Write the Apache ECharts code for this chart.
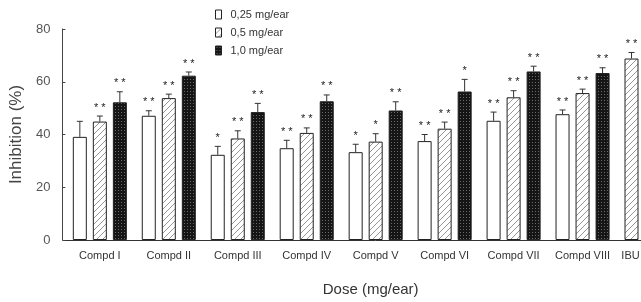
<!DOCTYPE html>
<html><head><meta charset="utf-8">
<script src="https://cdn.jsdelivr.net/npm/echarts@6/dist/echarts.min.js"></script>
<style>html,body{margin:0;padding:0;background:#fff;overflow:hidden;width:641px;height:302px}#c{width:686px;height:302px}</style>
</head><body><div id="c"></div>
<script>
const categories = ['Compd I','Compd II','Compd III','Compd IV','Compd V','Compd VI','Compd VII','Compd VIII','IBU'];
const seriesNames = ['0,25 mg/ear','0,5 mg/ear','1,0 mg/ear'];
const lowVals  = [39.1, 47.1, 32.3, 34.8, 33.3, 37.5, 45.2, 47.7, 68.8];
const midVals  = [44.9, 53.8, 38.5, 40.6, 37.3, 42.2, 54.1, 55.7, null];
const highVals = [52.2, 62.3, 48.5, 52.6, 49.1, 56.3, 63.9, 63.3, null];
const lowSd  = [5.9, 1.9, 3.2, 3.0, 3.0, 2.5, 3.3, 1.6, 2.3];
const midSd  = [2.1, 1.5, 2.9, 1.9, 3.0, 2.5, 2.5, 1.5, null];
const highSd = [4.0, 1.4, 3.3, 2.4, 3.3, 4.6, 2.0, 2.0, null];
const lowSig  = ['', '* *', '*', '* *', '*', '* *', '* *', '* *', '* *'];
const midSig  = ['* *', '* *', '* *', '* *', '*', '* *', '* *', '* *', ''];
const highSig = ['* *', '* *', '* *', '* *', '* *', '*', '* *', '* *', ''];
const yTicks = [0, 20, 40, 60, 80];

function hatch(){
  const c=document.createElement('canvas');c.width=6;c.height=6;const g=c.getContext('2d');
  g.fillStyle='#fff';g.fillRect(0,0,6,6);
  g.strokeStyle='#8a8a8a';g.lineWidth=0.9;
  g.beginPath();g.moveTo(0,6);g.lineTo(6,0);g.stroke();
  g.beginPath();g.moveTo(-1,1);g.lineTo(1,-1);g.stroke();
  g.beginPath();g.moveTo(5,7);g.lineTo(7,5);g.stroke();
  return c;
}
function dots(){
  const c=document.createElement('canvas');c.width=3;c.height=3;const g=c.getContext('2d');
  g.fillStyle='#151515';g.fillRect(0,0,3,3);
  g.fillStyle='#6a6a6a';g.fillRect(1,1,1,1);
  return c;
}
const hatchFill={image:hatch(),repeat:'repeat'};
const dotFill={image:dots(),repeat:'repeat'};
const fills=['#ffffff',hatchFill,dotFill];
const BW=14, STEP=20;

const chart=echarts.init(document.getElementById('c'),null,{renderer:'canvas'});
const font='"Liberation Sans", Arial, sans-serif';

function barSeries(name, vals, k){
  return {
    name:name, type:'bar', barWidth:BW, barGap:'43%',
    data: vals.map((v,i)=>{
      if(v===null) return null;
      if(k===0 && categories[i]==='IBU') return {value:v,itemStyle:{color:hatchFill}};
      return v;
    }),
    itemStyle:{color:fills[k],borderColor:'#222',borderWidth:1},
    z:2
  };
}
function errSeries(vals, sds, sigs, k){
  return {
    type:'custom', z:5, silent:true,
    data: vals.map((v,i)=>[i, v===null?NaN:v, sds[i]===null?0:sds[i]]),
    renderItem:function(params, api){
      const i=api.value(0), v=api.value(1), sd=api.value(2);
      if(isNaN(v)) return;
      const p=api.coord([i,v]); const t=api.coord([i,v+sd]);
      const x=p[0]+(k-1)*STEP;
      const sig=sigs[params.dataIndex];
      return {type:'group',children:[
        {type:'line',shape:{x1:x,y1:p[1],x2:x,y2:t[1]},style:{stroke:'#333',lineWidth:1}},
        {type:'line',shape:{x1:x-3,y1:t[1],x2:x+3,y2:t[1]},style:{stroke:'#333',lineWidth:1}},
        {type:'text',x:x,y:t[1]-3,style:{text:sig,fill:'#222',font:'11px '+font,textAlign:'center',textVerticalAlign:'bottom'}}
      ]};
    }
  };
}

chart.setOption({
  animation:false,
  backgroundColor:'#fff',
  grid:{left:63,right:0,top:29,bottom:59,containLabel:false},
  legend:{
    orient:'vertical',left:210,top:4,itemWidth:6,itemHeight:9,itemGap:7,icon:'rect',
    data:seriesNames.map((n,k)=>({name:n,icon:'rect',itemStyle:{color:fills[k],borderColor:'#222',borderWidth:1}})),
    textStyle:{fontFamily:font,fontSize:11,color:'#333',padding:[0,0,0,4]}
  },
  xAxis:{
    type:'category',
    data:categories.map(c=>c==='IBU'?{value:c,textStyle:{padding:[0,42,0,0]}}:c),
    axisLine:{lineStyle:{color:'#333',width:1}},axisTick:{show:false},
    axisLabel:{fontFamily:font,fontSize:11,color:'#333',margin:10,interval:0,hideOverlap:false},
    name:'Dose (mg/ear)',nameLocation:'middle',nameGap:42,
    nameTextStyle:{fontFamily:font,fontSize:15,color:'#333',padding:[0,10,0,0]}
  },
  yAxis:{
    type:'value',min:yTicks[0],max:yTicks[yTicks.length-1],interval:20,offset:3,
    axisLine:{show:true,lineStyle:{color:'#444'}},axisTick:{show:true,inside:true,length:3,lineStyle:{color:'#444'}},
    splitLine:{show:false},
    axisLabel:{fontFamily:font,fontSize:13,color:'#555',margin:12},
    name:'Inhibition (%)',nameLocation:'middle',nameGap:30,
    nameTextStyle:{fontFamily:font,fontSize:17,color:'#444'}
  },
  series:[
    barSeries(seriesNames[0],lowVals,0),
    barSeries(seriesNames[1],midVals,1),
    barSeries(seriesNames[2],highVals,2),
    errSeries(lowVals,lowSd,lowSig,0),
    errSeries(midVals,midSd,midSig,1),
    errSeries(highVals,highSd,highSig,2)
  ]
});
</script></body></html>
